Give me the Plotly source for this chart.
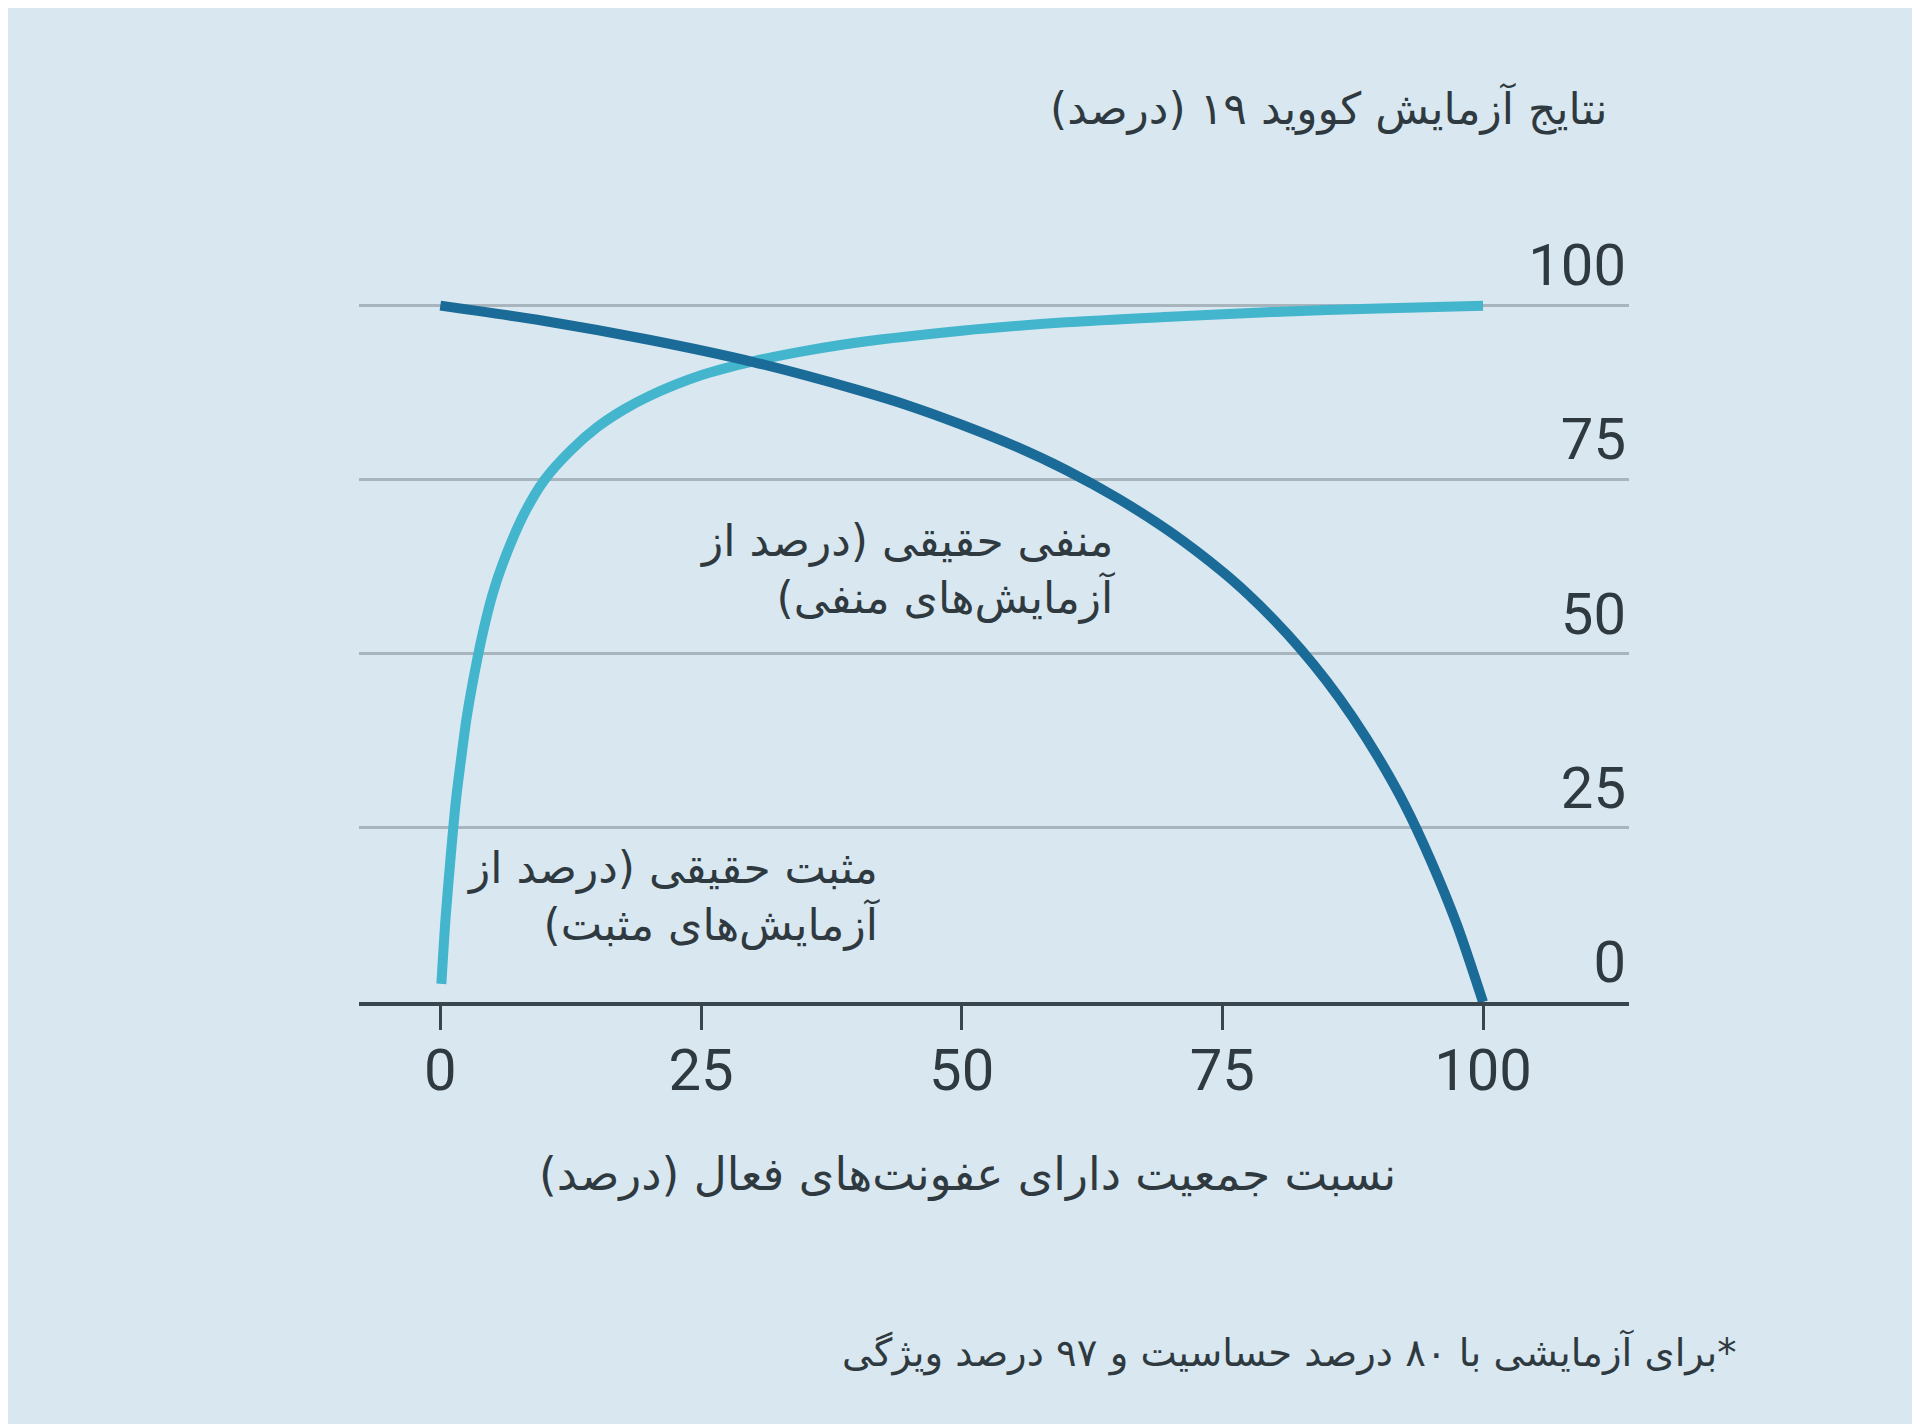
import plotly.graph_objects as go

# values (percent)
prevalence_pos = [0.1, 0.5, 1, 1.5, 2, 2.5, 3, 4, 5, 6, 8, 10, 12.5, 15, 17.5, 20, 25, 30, 35, 40, 50, 60, 70, 80, 90, 100]
true_positive = [2.6, 12, 21, 29, 35, 40.6, 45, 52.5, 58.5, 63, 70, 75, 79.2, 82.5, 85, 87, 90, 92, 93.5, 94.7,
                 96.4, 97.6, 98.4, 99.1, 99.6, 100]

prevalence_neg = [0, 10, 20, 30, 40, 45, 50, 55, 60, 65, 70, 75, 77.5, 80, 82.5, 85, 87.5, 90, 92.5, 95, 97.5, 100]
true_negative = [100, 97.8, 95.1, 91.9, 87.9, 85.6, 82.9, 79.9, 76.4, 72.3, 67.5, 61.8, 58.5, 54.8, 50.7, 46.1,
                 40.9, 35, 28.3, 20.3, 11.1, 0]

x_ticks = [0, 25, 50, 75, 100]
y_ticks = [0, 25, 50, 75, 100]

RLM = "\u200f"

bg = "#d9e7f0"
cyan = "#43b5cd"
navy = "#1b6b98"
ink = "#2f3a40"
fa_font = "DejaVu Sans, Noto Sans, sans-serif"
num_font = "Roboto, Liberation Sans, sans-serif"


def rtl(*lines):
    return "<br>".join(RLM + s + RLM for s in lines)


fig = go.Figure()
fig.add_trace(go.Scatter(x=prevalence_pos, y=true_positive, mode="lines",
                         line=dict(color=cyan, width=10, shape="spline", smoothing=0.8),
                         hoverinfo="skip"))
fig.add_trace(go.Scatter(x=prevalence_neg, y=true_negative, mode="lines",
                         line=dict(color=navy, width=10, shape="spline", smoothing=0.8),
                         hoverinfo="skip"))

fig.add_annotation(x=64.9, y=62.1, xref="x", yref="y", xanchor="right", yanchor="middle",
                   align="right", showarrow=False,
                   text=rtl("منفی حقیقی (درصد از", "آزمایش‌های منفی)"),
                   font=dict(family=fa_font, size=44, color=ink))
fig.add_annotation(x=42.4, y=15.2, xref="x", yref="y", xanchor="right", yanchor="middle",
                   align="right", showarrow=False,
                   text=rtl("مثبت حقیقی (درصد از", "آزمایش‌های مثبت)"),
                   font=dict(family=fa_font, size=44, color=ink))
fig.add_annotation(x=0.984, y=1.167, xref="paper", yref="paper", xanchor="right", yanchor="middle",
                   showarrow=False, text=rtl("نتایج آزمایش کووید ۱۹ (درصد)"),
                   font=dict(family=fa_font, size=44, color=ink))
fig.add_annotation(x=0.479, y=-0.226, xref="paper", yref="paper", xanchor="center", yanchor="middle",
                   showarrow=False, text=rtl("نسبت جمعیت دارای عفونت‌های فعال (درصد)"),
                   font=dict(family=fa_font, size=45.5, color=ink))
fig.add_annotation(x=1.087, y=-0.458, xref="paper", yref="paper", xanchor="right", yanchor="middle",
                   showarrow=False, text=rtl("*برای آزمایشی با ۸۰ درصد حساسیت و ۹۷ درصد ویژگی"),
                   font=dict(family=fa_font, size=38.5, color=ink))

fig.update_layout(
    width=1920, height=1424,
    margin=dict(l=351, r=299, t=228, b=430),
    paper_bgcolor=bg, plot_bgcolor=bg,
    showlegend=False,
    xaxis=dict(range=[-7.8, 114], tickvals=x_ticks, ticktext=[str(v) for v in x_ticks],
               showgrid=False, zeroline=False,
               showline=True, linecolor="#3a464d", linewidth=4,
               ticks="outside", ticklen=24, tickwidth=3, tickcolor="#3a464d",
               ticklabelstandoff=-10,
               tickfont=dict(family=num_font, size=58, color=ink)),
    yaxis=dict(range=[0, 110], tickvals=y_ticks, ticktext=[str(v) for v in y_ticks],
               side="right", ticklabelposition="inside top", ticks="",
               ticklabeloverflow="allow",
               showgrid=True, gridcolor="#a9b5bc", gridwidth=3,
               zeroline=False, showline=False,
               tickfont=dict(family=num_font, size=58, color=ink)),
)

fig.write_html("out.html")
